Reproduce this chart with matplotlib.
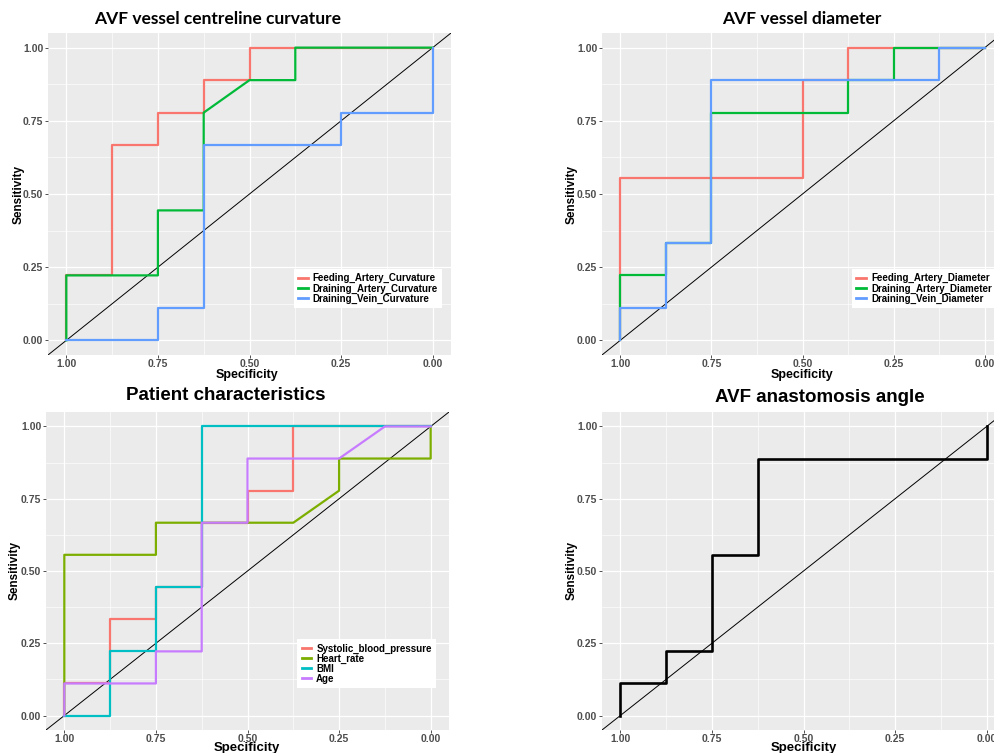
import matplotlib.pyplot as plt

# ---- data (specificity / sensitivity vertices of each ROC curve) ----
feed_curv_spec = [1, 1, 0.875, 0.875, 0.75, 0.75, 0.625, 0.625, 0.5, 0.5, 0]
feed_curv_sens = [0, 0.222, 0.222, 0.667, 0.667, 0.778, 0.778, 0.889, 0.889, 1, 1]
drain_art_curv_spec = [1, 1, 0.75, 0.75, 0.625, 0.625, 0.5, 0.375, 0.375, 0]
drain_art_curv_sens = [0, 0.222, 0.222, 0.444, 0.444, 0.778, 0.889, 0.889, 1, 1]
drain_vein_curv_spec = [1, 0.75, 0.75, 0.625, 0.625, 0.25, 0.25, 0, 0]
drain_vein_curv_sens = [0, 0, 0.111, 0.111, 0.667, 0.667, 0.778, 0.778, 1]

feed_diam_spec = [1, 1, 0.5, 0.5, 0.375, 0.375, 0]
feed_diam_sens = [0, 0.556, 0.556, 0.889, 0.889, 1, 1]
drain_art_diam_spec = [1, 1, 0.875, 0.875, 0.75, 0.75, 0.375, 0.375, 0.25, 0.25, 0]
drain_art_diam_sens = [0, 0.222, 0.222, 0.333, 0.333, 0.778, 0.778, 0.889, 0.889, 1, 1]
drain_vein_diam_spec = [1, 1, 0.875, 0.875, 0.75, 0.75, 0.125, 0.125, 0]
drain_vein_diam_sens = [0, 0.111, 0.111, 0.333, 0.333, 0.889, 0.889, 1, 1]

sbp_spec = [1, 1, 0.875, 0.875, 0.75, 0.75, 0.625, 0.625, 0.5, 0.5, 0.375, 0.375, 0]
sbp_sens = [0, 0.111, 0.111, 0.333, 0.333, 0.444, 0.444, 0.667, 0.667, 0.778, 0.778, 1, 1]
hr_spec = [1, 1, 0.75, 0.75, 0.375, 0.25, 0.25, 0, 0]
hr_sens = [0, 0.556, 0.556, 0.667, 0.667, 0.778, 0.889, 0.889, 1]
bmi_spec = [1, 0.875, 0.875, 0.75, 0.75, 0.625, 0.625, 0]
bmi_sens = [0, 0, 0.222, 0.222, 0.444, 0.444, 1, 1]
age_spec = [1, 1, 0.75, 0.75, 0.625, 0.625, 0.5, 0.5, 0.25, 0.125, 0]
age_sens = [0, 0.111, 0.111, 0.222, 0.222, 0.667, 0.667, 0.889, 0.889, 1, 1]

angle_spec = [1, 1, 0.875, 0.875, 0.75, 0.75, 0.625, 0.625, 0, 0]
angle_sens = [0, 0.111, 0.111, 0.222, 0.222, 0.556, 0.556, 0.889, 0.889, 1]

ticks = [0, 0.25, 0.5, 0.75, 1.0]
tick_labels = ['0.00', '0.25', '0.50', '0.75', '1.00']

W, H = 994, 753
fig = plt.figure(figsize=(W / 100, H / 100), dpi=100)


def px_axes(left, top, right, bottom):
    return fig.add_axes([left / W, 1 - bottom / H, (right - left) / W, (bottom - top) / H])


def setup(ax, title, title_xy, title_font, xlab_xy, ylab_x, xlab_size):
    ax.set_facecolor('#EBEBEB')
    for s in ax.spines.values():
        s.set_visible(False)
    ax.set_xlim(1.05, -0.05)
    ax.set_ylim(-0.05, 1.05)
    ax.set_xticks(ticks)
    ax.set_xticklabels(tick_labels)
    ax.set_yticks(ticks)
    ax.set_yticklabels(tick_labels)
    ax.set_xticks([0.125, 0.375, 0.625, 0.875], minor=True)
    ax.set_yticks([0.125, 0.375, 0.625, 0.875], minor=True)
    ax.tick_params(which='major', length=2, width=0.6, color='#333333', pad=1.5,
                   labelsize=7.5, labelcolor='#4D4D4D')
    ax.tick_params(axis='x', which='major', pad=0.8)
    ax.tick_params(which='minor', length=0)
    for lab in ax.get_xticklabels() + ax.get_yticklabels():
        lab.set_fontweight('bold')
        lab.set_family('Liberation Sans')
    ax.grid(which='major', color='white', lw=0.9)
    ax.grid(which='minor', color='white', lw=0.45)
    ax.set_axisbelow(True)
    ax.axline((1, 0), (0, 1), color='black', lw=0.7, zorder=2)
    ax.set_title(title, x=title_xy[0], y=title_xy[1], pad=0, va='center',
                 fontweight='bold', **title_font)
    ax.set_xlabel('Specificity', fontsize=xlab_size, fontweight='bold',
                  family='Liberation Sans', va='center')
    ax.xaxis.set_label_coords(*xlab_xy)
    ax.set_ylabel('Sensitivity', fontsize=8.5, fontweight='bold',
                  family='Liberation Sans', va='center')
    ax.yaxis.set_label_coords(ylab_x, 0.5)


def add_legend(ax, anchor):
    leg = ax.legend(loc='lower right', bbox_to_anchor=anchor, frameon=True, fancybox=False,
                    edgecolor='none', facecolor='white', framealpha=1,
                    prop={'family': 'Liberation Sans', 'weight': 'bold', 'size': 7},
                    handlelength=1.0, handletextpad=0.5, labelspacing=0.0,
                    borderpad=0.45, borderaxespad=0)
    for line in leg.get_lines():
        line.set_linewidth(2)


calibri_like = {'family': 'Lato', 'fontsize': 12.5}
arial_like = {'family': 'Liberation Sans', 'fontsize': 13.5}
lw = 1.6

# top-left: curvature
ax1 = px_axes(48, 33, 451, 355)
setup(ax1, 'AVF vessel centreline curvature', (0.422, 1.045), calibri_like,
      (0.495, -0.061), -0.074, 9)
ax1.plot(feed_curv_spec, feed_curv_sens, color='#F8766D', lw=lw, label='Feeding_Artery_Curvature')
ax1.plot(drain_art_curv_spec, drain_art_curv_sens, color='#00BA38', lw=lw, label='Draining_Artery_Curvature')
ax1.plot(drain_vein_curv_spec, drain_vein_curv_sens, color='#619CFF', lw=lw, label='Draining_Vein_Curvature')
add_legend(ax1, (0.978, 0.146))

# top-right: diameter
ax2 = px_axes(602, 33, 1003, 355)
setup(ax2, 'AVF vessel diameter', (0.499, 1.045), calibri_like,
      (0.5, -0.061), -0.075, 9)
ax2.plot(feed_diam_spec, feed_diam_sens, color='#F8766D', lw=lw, label='Feeding_Artery_Diameter')
ax2.plot(drain_art_diam_spec, drain_art_diam_sens, color='#00BA38', lw=lw, label='Draining_Artery_Diameter')
ax2.plot(drain_vein_diam_spec, drain_vein_diam_sens, color='#619CFF', lw=lw, label='Draining_Vein_Diameter')
add_legend(ax2, (0.983, 0.146))

# bottom-left: patient characteristics
ax3 = px_axes(46, 412, 449, 730)
setup(ax3, 'Patient characteristics', (0.447, 1.053), arial_like,
      (0.499, -0.057), -0.077, 9.5)
ax3.plot(sbp_spec, sbp_sens, color='#F8766D', lw=lw, label='Systolic_blood_pressure')
ax3.plot(hr_spec, hr_sens, color='#7CAE00', lw=lw, label='Heart_rate')
ax3.plot(bmi_spec, bmi_sens, color='#00BFC4', lw=lw, label='BMI')
ax3.plot(age_spec, age_sens, color='#C77CFF', lw=lw, label='Age')
add_legend(ax3, (0.968, 0.132))

# bottom-right: anastomosis angle
ax4 = px_axes(602, 412, 1005, 730)
setup(ax4, 'AVF anastomosis angle', (0.54, 1.047), arial_like,
      (0.5, -0.057), -0.075, 9.5)
ax4.plot(angle_spec, angle_sens, color='black', lw=lw + 0.3)

fig.savefig('out.png', dpi=100)
